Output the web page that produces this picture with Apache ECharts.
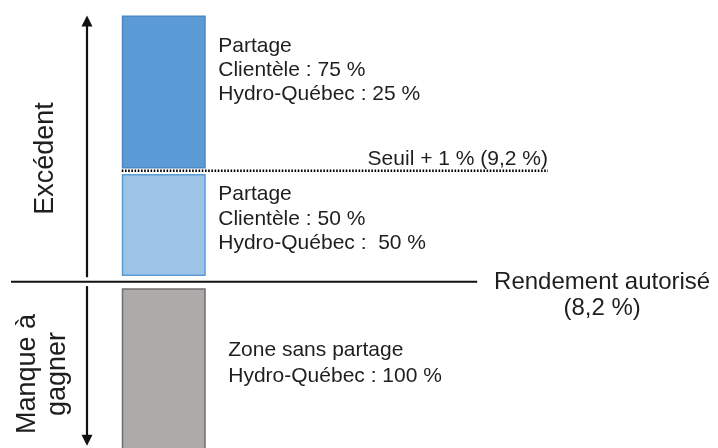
<!DOCTYPE html>
<html>
<head>
<meta charset="utf-8">
<script src="https://cdn.jsdelivr.net/npm/echarts@6/dist/echarts.min.js"></script>
<style>
html,body{margin:0;padding:0;background:#fff;}
#c{width:718px;height:448px;}
</style>
</head>
<body>
<div id="c"></div>
<script>
// ---- data ----
const zoneNames = ['Partage 75/25', 'Partage 50/50', 'Zone sans partage'];
const zoneLow = [9.22, 8.25, 6.6];
const zoneHigh = [10.6, 9.17, 8.14];
const zoneTexts = [
  'Partage\nClientèle : 75 %\nHydro-Québec : 25 %',
  'Partage\nClientèle : 50 %\nHydro-Québec :  50 %',
  'Zone sans partage\nHydro-Québec : 100 %'
];
const thresholdValues = [9.2, 8.2];
const thresholdLabels = ['Seuil + 1 % (9,2 %)', 'Rendement autorisé\n(8,2 %)'];
const arrowFrom = [8.24, 8.16];
const arrowTo = [10.6, 6.72];
const arrowLabels = ['Excédent', 'Manque à\ngagner'];

// ---- layout / style ----
const FONT = 'Liberation Sans, Arial, sans-serif';
const TXT = '#1e1e1e';
const barX = [0, 1];
const zoneFill = ['#5B9BD5', '#9DC3E6', '#AEAAAA'];
const zoneStroke = ['#4A87C4', '#5B9BD5', '#6E6E6E'];
const zoneTextDx = [12.5, 12.5, 22.5];
const zoneTextDy = [19, 8, 48.5];
const zoneLineH = [24, 24.5, 26];
const thresholdSpan = [[0, 5.075], [-1.319, 4.232]];
const arrowX = -0.414;

const chart = echarts.init(document.getElementById('c'), null, {renderer: 'canvas'});

const option = {
  animation: false,
  backgroundColor: '#fff',
  grid: {left: 0, right: 0, top: 0, bottom: 0},
  xAxis: {type: 'value', min: -1.45, max: 7.1, show: false},
  yAxis: {type: 'value', min: 6.7, max: 10.74, show: false},
  series: [
    {
      type: 'custom',
      name: 'zones',
      clip: false,
      data: zoneLow.map((lo, i) => [lo, zoneHigh[i]]),
      renderItem: function (params, api) {
        const i = params.dataIndex;
        const tl = api.coord([barX[0], api.value(1)]);
        const br = api.coord([barX[1], api.value(0)]);
        return {
          type: 'group',
          children: [
            {
              type: 'rect',
              shape: {x: tl[0] + 0.75, y: tl[1] + 0.75, width: br[0] - tl[0] - 1.5, height: br[1] - tl[1] - 1.5},
              style: {fill: zoneFill[i], stroke: zoneStroke[i], lineWidth: 1.5}
            },
            {
              type: 'text',
              x: br[0] + zoneTextDx[i],
              y: tl[1] + zoneTextDy[i],
              style: {
                text: zoneTexts[i], fill: TXT,
                fontSize: 21, fontFamily: FONT,
                lineHeight: zoneLineH[i], align: 'left', verticalAlign: 'top'
              }
            }
          ]
        };
      }
    },
    {
      type: 'custom',
      name: 'thresholds',
      clip: false,
      data: thresholdValues.map(v => [v]),
      renderItem: function (params, api) {
        const i = params.dataIndex;
        const v = api.value(0);
        const a = api.coord([thresholdSpan[i][0], v]);
        const b = api.coord([thresholdSpan[i][1], v]);
        const children = [];
        if (i === 0) {
          children.push({
            type: 'line',
            shape: {x1: a[0], y1: a[1], x2: b[0], y2: b[1]},
            style: {stroke: '#000', lineWidth: 2.5, lineDash: [1.6, 1.6]}
          });
          children.push({
            type: 'text', x: b[0], y: a[1] - 11.5,
            style: {text: thresholdLabels[i], fill: TXT, fontSize: 21, fontFamily: FONT, align: 'right', verticalAlign: 'middle'}
          });
        } else {
          children.push({
            type: 'line',
            shape: {x1: a[0], y1: a[1], x2: b[0], y2: b[1]},
            style: {stroke: '#111', lineWidth: 2}
          });
          children.push({
            type: 'text', x: b[0] + 125, y: a[1] + 13.5,
            style: {text: thresholdLabels[i], fill: TXT, fontSize: 24, fontFamily: FONT, lineHeight: 26, align: 'center', verticalAlign: 'middle'}
          });
        }
        return {type: 'group', children: children};
      }
    },
    {
      type: 'custom',
      name: 'arrows',
      clip: false,
      data: arrowFrom.map((f, i) => [f, arrowTo[i]]),
      renderItem: function (params, api) {
        const s = api.coord([arrowX, api.value(0)]);
        const e = api.coord([arrowX, api.value(1)]);
        const dir = e[1] < s[1] ? -1 : 1;
        const headLen = 11, headW = 5.5;
        const baseY = e[1] - dir * headLen;
        return {
          type: 'group',
          children: [
            {type: 'line', shape: {x1: s[0], y1: s[1], x2: e[0], y2: baseY + dir}, style: {stroke: '#111', lineWidth: 2.2}},
            {type: 'polygon', shape: {points: [[e[0], e[1]], [e[0] - headW, baseY], [e[0] + headW, baseY]]}, style: {fill: '#111'}}
          ]
        };
      }
    }
  ],
  graphic: [
    {
      type: 'text', x: 45.8, y: 158.5, rotation: Math.PI / 2,
      style: {text: arrowLabels[0], fill: TXT, fontSize: 27, fontFamily: FONT, align: 'center', verticalAlign: 'middle'}
    },
    {
      type: 'text', x: 42.8, y: 374, rotation: Math.PI / 2,
      style: {text: arrowLabels[1], fill: TXT, fontSize: 27, fontFamily: FONT, lineHeight: 30, align: 'center', verticalAlign: 'middle'}
    }
  ]
};
chart.setOption(option);
</script>
</body>
</html>
